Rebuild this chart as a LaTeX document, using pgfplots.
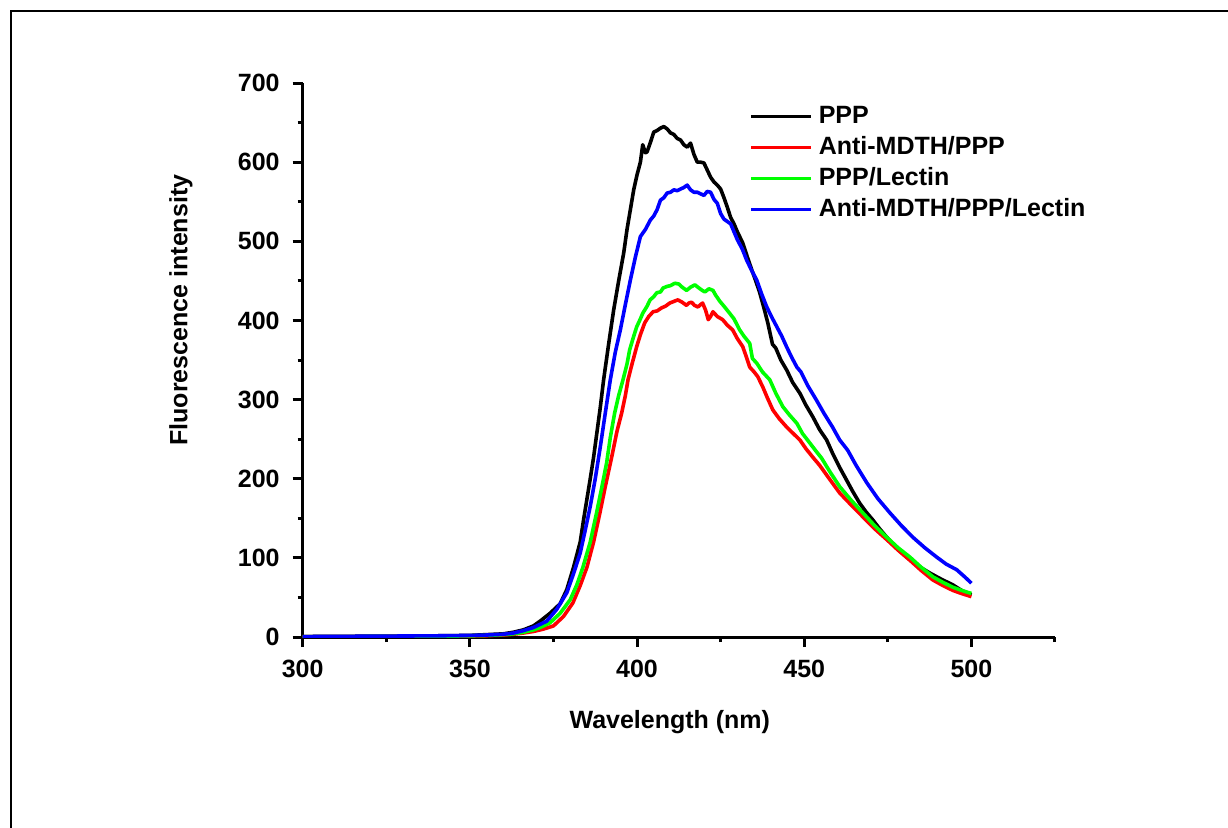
\documentclass[border=0pt]{standalone}
\usepackage{fontspec}
\setmainfont{Liberation Sans}
\usepackage{pgfplots}
\pgfplotsset{compat=1.18}
\usepackage{pgfplotstable}

% spectra: wavelength (nm), intensity
\pgfplotstableread{
x y
300 0.5
320 1
340 1.5
350 2
355 3
360 4
363 6
366 9
369 14
371 20
374 30
377 42
379 60
381 88
383 120
384 148
386 200
387 227
389 290
390 325
391.5 370
393 413
394.5 450
396 485
397 515
398 540
399 565
400 584
401 600
401.7 622
402.5 612
403 613
404 625
405 638
406 640
407 643
408 645
409 642
410 637
411 635
412 630
413 628
414 622
415 619
416 624
417 610
418 600
419 600
420 599
421 590
422 581
423 575
424 571
425 566
426 555
427 543
428 530
429 522
430 512
431.6 498
433 480
434.3 464
435.5 450
436.7 435
438 415
439.1 397
440.5 370
441.5 365
443 350
444.8 337
446.5 322
448.7 308
450.5 293
452.6 278
454.6 262
456.7 249
458.5 232
460.5 215
462.7 198
464.5 184
466.6 169
468.5 158
470.5 148
472.5 137
474.7 126
477.5 113
480.6 101
484 90
487.5 81
491 73
494.4 66
497 59
500 53
}\ppp

\pgfplotstableread{
x y
300 0.3
320 0.5
340 0.8
350 1.2
355 1.6
360 2.5
363 3.5
366 5
369 7
372 10
375 14
378 26
380.8 43
383 65
385 88
387 120
388.9 157
390.5 190
392.4 227
394 260
395.4 283
396.5 305
397.3 325
398.5 345
399.9 367
401 382
402.3 397
403.5 405
404.8 411
406 412
407.4 416
408.5 418
409.8 422
411 424
412.2 426
413.5 423
414.8 419
415.5 422
416.3 423
417.2 419
418.2 417
419 420
419.6 422
420.5 413
421.3 401
422 405
422.7 411
424 405
425.6 401
427 394
428.6 388
430 377
431.6 367
432.6 355
433.7 341
435 335
436.1 329
437.6 316
439 302
440.6 287
442.5 276
444.8 265
446.5 258
448.7 249
450.5 238
452.6 227
454.6 217
457.5 200
460.6 182
464 167
467.5 152
471 137
474.7 123
478 110
481.6 97
485 84
488.5 72
491.5 65
494.4 59
497 55
500 51
}\antippp

\pgfplotstableread{
x y
300 0.3
320 0.6
340 1
350 1.5
355 2
360 3
363 4
366 6
369 9
371 12
374 18
377 30
380 47
382 66
383.8 88
386 120
387.9 157
389.5 190
390.9 220
392 252
393.3 283
394.5 305
395.8 325
397 345
397.8 363
399 380
399.9 392
401 402
401.7 409
403 418
403.9 426
405 430
405.9 435
407 436
407.8 441
409 443
410 444
411.3 447
412.5 446
413.5 442
414.8 438
416 442
417.3 445
418.5 441
419.5 438
420.3 436
421.5 440
422.7 438
423.5 432
424.8 424
426 418
427.7 409
429 402
430.7 388
432 380
433.7 371
434.5 352
435.8 346
437.5 335
439.7 325
441.5 308
443.6 291
445.5 281
447.8 270
449.5 257
451.7 245
453.5 235
455.2 226
457.5 210
460.6 190
464 173
467.5 157
471 141
474.7 126
478 113
481.6 101
485 88
488.5 76
491.5 69
494.4 63
497 59
500 55
}\ppplectin

\pgfplotstableread{
x y
300 0.5
320 1
340 1.5
350 2
355 2.5
360 3.5
363 5
366 8
369 12
371 16
373 20
376 35
379 56
381 80
383 106
384.5 135
386 165
387.5 200
389 240
390.5 283
392 325
393.5 360
395 388
396.5 420
398 451
399.5 480
401 506
402.5 515
404 527
405 532
406 540
407 552
408 555
409 561
410 562
411 565
412 564
413 566
414 568
415 571
416 565
417 562
418 562
419 560
420 558
421 563
422 562
423 553
424 548
425 535
426 528
427 525
428 522
429 512
430 502
431.5 490
432.8 476
434.3 463
435.8 451
437.3 433
438.8 417
440.3 404
441.8 392
443.3 380
444.8 366
446.3 353
447.8 341
449 335
451 318
453.7 299
456 282
458.5 265
460.6 249
463 236
465.5 217
468.7 195
472 175
475.6 157
479 141
482.5 126
486 113
489.6 101
492.5 92
495.6 85
498 76
500 68
}\antilectin

\begin{document}
\begin{tikzpicture}
% page = 1228 x 827 px at 0.5pt per px, axis corner at the origin
\useasboundingbox (-151.35pt,-95pt) rectangle (462.65pt,318.5pt);
\draw[line width=1pt] (-145.85pt,-100pt) -- (-145.85pt,313pt) -- (470pt,313pt);

\begin{axis}[
    scale only axis,
    width=376.15pt, height=277pt,
    xmin=300, xmax=525,
    ymin=0, ymax=700,
    axis x line*=bottom,
    axis y line*=left,
    axis line style={line width=1.5pt, -},
    xtick={300,350,...,500},
    minor xtick={325,375,...,525},
    ytick={0,100,...,700},
    minor ytick={50,150,...,650},
    tick align=outside,
    major tick length=5pt,
    minor tick length=2.5pt,
    every tick/.style={line width=1.5pt, black},
    /pgf/number format/assume math mode=true,
    ticklabel style={font=\fontsize{12.5}{15}\selectfont\bfseries},
    xticklabel style={yshift=-3pt},
    yticklabel style={xshift=-3pt},
    xlabel={Wavelength (nm)},
    ylabel={Fluorescence intensity},
    label style={font=\fontsize{12.5}{15}\selectfont\bfseries},
    xlabel style={at={(axis description cs:0.488,-0.153)}, anchor=center},
    ylabel style={at={(axis description cs:-0.162,0.59)}, anchor=center, rotate=0},
    legend style={
        at={(axis description cs:0.593,0.961)}, anchor=north west,
        draw=none, fill=none,
        font=\fontsize{12.5}{15}\selectfont\bfseries,
        inner sep=0pt,
        row sep=4pt,
        nodes={inner sep=0pt, text height=9pt, text depth=2.5pt},
        /tikz/every odd column/.append style={column sep=3pt},
    },
    legend cell align=left,
    legend image code/.code={\draw[#1] (0pt,0pt) -- (30pt,0pt);},
    every axis plot/.append style={line width=1.8pt, line join=round},
]
\addplot[black] table {\ppp};
\addplot[color={rgb,255:red,255;green,0;blue,0}] table {\antippp};
\addplot[color={rgb,255:red,0;green,255;blue,0}] table {\ppplectin};
\addplot[color={rgb,255:red,0;green,0;blue,255}] table {\antilectin};
\legend{PPP, Anti-MDTH/PPP, PPP/Lectin, Anti-MDTH/PPP/Lectin}
\end{axis}
\end{tikzpicture}
\end{document}
